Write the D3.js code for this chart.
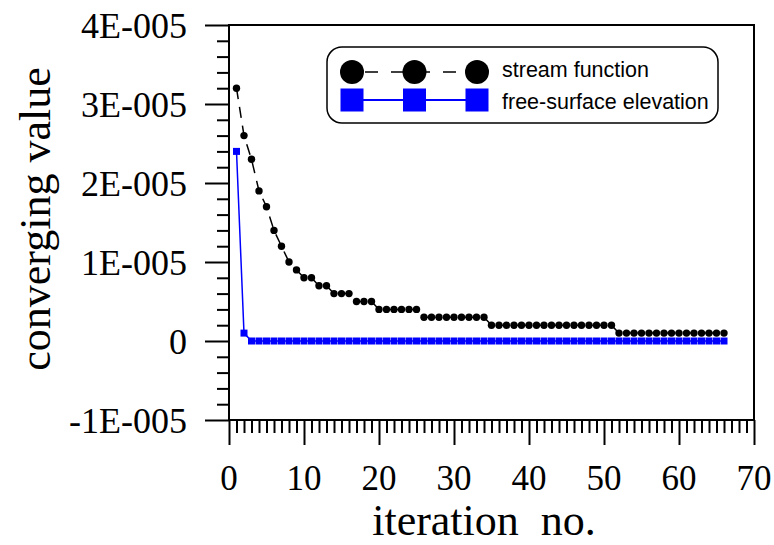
<!DOCTYPE html>
<html>
<head>
<meta charset="utf-8">
<script src="https://cdn.jsdelivr.net/npm/d3@7"></script>
<style>
  html, body { margin: 0; padding: 0; background: #fff; }
  svg { display: block; }
</style>
</head>
<body>
<svg id="chart" width="774" height="545"></svg>
<script>
// ---- data ----
const iterations = [1,2,3,4,5,6,7,8,9,10,11,12,13,14,15,16,17,18,19,20,21,22,23,24,25,26,27,28,29,30,31,32,33,34,35,36,37,38,39,40,41,42,43,44,45,46,47,48,49,50,51,52,53,54,55,56,57,58,59,60,61,62,63,64,65,66];
const streamFunction = [3.2e-5,2.6e-5,2.3e-5,1.9e-5,1.7e-5,1.4e-5,1.2e-5,1.0e-5,0.9e-5,0.8e-5,0.8e-5,0.7e-5,0.7e-5,0.6e-5,0.6e-5,0.6e-5,0.5e-5,0.5e-5,0.5e-5,
  0.4e-5,0.4e-5,0.4e-5,0.4e-5,0.4e-5,0.4e-5,
  0.3e-5,0.3e-5,0.3e-5,0.3e-5,0.3e-5,0.3e-5,0.3e-5,0.3e-5,0.3e-5,
  0.2e-5,0.2e-5,0.2e-5,0.2e-5,0.2e-5,0.2e-5,0.2e-5,0.2e-5,0.2e-5,0.2e-5,0.2e-5,0.2e-5,0.2e-5,0.2e-5,0.2e-5,0.2e-5,0.2e-5,
  0.1e-5,0.1e-5,0.1e-5,0.1e-5,0.1e-5,0.1e-5,0.1e-5,0.1e-5,0.1e-5,0.1e-5,0.1e-5,0.1e-5,0.1e-5,0.1e-5,0.1e-5];
const freeSurface = [2.4e-5,0.1e-5,0,0,0,0,0,0,0,0,0,0,0,0,0,0,0,0,0,0,0,0,0,0,0,0,0,0,0,0,0,0,0,0,0,0,0,0,0,0,0,0,0,0,0,0,0,0,0,0,0,0,0,0,0,0,0,0,0,0,0,0,0,0,0,0];
const xTicks = [0,10,20,30,40,50,60,70];
const yTicks = [-1e-5,0,1e-5,2e-5,3e-5,4e-5];
const yTickLabels = ["-1E-005","0","1E-005","2E-005","3E-005","4E-005"];
const seriesNames = ["stream function","free-surface elevation"];
const xTitle = "iteration  no.";
const yTitle = "converging value";

// ---- layout ----
const L = 229, R = 754, T = 25, B = 420;
const svg = d3.select("#chart");
const x = d3.scaleLinear().domain([0,70]).range([L,R]);
const y = d3.scaleLinear().domain([-1e-5,4e-5]).range([B,T]);
const serif = "'Liberation Serif','Times New Roman',Times,serif";
const sans = "'Liberation Sans',Arial,Helvetica,sans-serif";

// frame
svg.append("rect").attr("x",L).attr("y",T).attr("width",R-L).attr("height",B-T)
  .attr("fill","none").attr("stroke","#000").attr("stroke-width",2);

// x axis minor + major
const xMinor = d3.range(0,71,1).filter(v => v % 10 !== 0);
const gxm = svg.append("g").attr("transform",`translate(0,${B})`)
  .call(d3.axisBottom(x).tickValues(xMinor).tickSize(13).tickFormat(""));
const gx = svg.append("g").attr("transform",`translate(0,${B})`)
  .call(d3.axisBottom(x).tickValues(xTicks).tickSize(25).tickFormat(""));
[gxm,gx].forEach(g => { g.select(".domain").remove(); g.selectAll("line").attr("stroke","#000").attr("stroke-width",2); });
svg.append("g").selectAll("text").data(xTicks).join("text")
  .attr("x",d=>x(d)).attr("y",490).attr("text-anchor","middle")
  .attr("font-family",serif).attr("font-size",35).attr("fill","#000").text(d=>d);

// y axis minor + major
const yMinor = d3.range(-5,21,1).filter(v => v % 5 !== 0).map(v => v*2e-6);
const gym = svg.append("g").attr("transform",`translate(${L},0)`)
  .call(d3.axisLeft(y).tickValues(yMinor).tickSize(12).tickFormat(""));
const gy = svg.append("g").attr("transform",`translate(${L},0)`)
  .call(d3.axisLeft(y).tickValues(yTicks).tickSize(24).tickFormat(""));
[gym,gy].forEach(g => { g.select(".domain").remove(); g.selectAll("line").attr("stroke","#000").attr("stroke-width",2); });
svg.append("g").selectAll("text").data(yTicks).join("text")
  .attr("x",187).attr("y",d=>y(d)).attr("dy","0.35em").attr("text-anchor","end")
  .attr("font-family",serif).attr("font-size",36).attr("fill","#000").text((d,i)=>yTickLabels[i]);

// titles
svg.append("text").attr("x",484).attr("y",535).attr("text-anchor","middle")
  .attr("font-family",serif).attr("font-size",44).style("white-space","pre").attr("fill","#000").text(xTitle);
svg.append("text").attr("transform","translate(50,219) rotate(-90)").attr("text-anchor","middle")
  .attr("font-family",serif).attr("font-size",44).attr("fill","#000").text(yTitle);

// series
const sfData = iterations.map((it,i)=>({x:it,y:streamFunction[i]}));
const fsData = iterations.map((it,i)=>({x:it,y:freeSurface[i]}));
const line = d3.line().x(d=>x(d.x)).y(d=>y(d.y));

svg.append("path").datum(sfData).attr("d",line).attr("fill","none")
  .attr("stroke","#000").attr("stroke-width",1.5).attr("stroke-dasharray","11,8");
svg.append("g").selectAll("circle").data(sfData).join("circle")
  .attr("cx",d=>x(d.x)).attr("cy",d=>y(d.y)).attr("r",3.7).attr("fill","#000");

svg.append("path").datum(fsData).attr("d",line).attr("fill","none")
  .attr("stroke","#0000ff").attr("stroke-width",1.5);
const sq = 7;
svg.append("g").selectAll("rect").data(fsData).join("rect")
  .attr("x",d=>x(d.x)-sq/2).attr("y",d=>y(d.y)-sq/2).attr("width",sq).attr("height",sq).attr("fill","#0000ff");

// legend
const lg = svg.append("g");
lg.append("rect").attr("x",327).attr("y",47).attr("width",391).attr("height",76).attr("rx",15).attr("ry",15)
  .attr("fill","#fff").attr("stroke","#000").attr("stroke-width",1.5);
const symX = [352,414.5,477];
lg.append("line").attr("x1",symX[0]).attr("x2",symX[2]).attr("y1",72).attr("y2",72)
  .attr("stroke","#000").attr("stroke-width",1.5).attr("stroke-dasharray","13,13").attr("stroke-dashoffset",-13);
lg.selectAll("circle").data(symX).join("circle").attr("cx",d=>d).attr("cy",72).attr("r",12).attr("fill","#000");
lg.append("line").attr("x1",symX[0]).attr("x2",symX[2]).attr("y1",100).attr("y2",100)
  .attr("stroke","#0000ff").attr("stroke-width",2);
lg.selectAll("rect.s").data(symX).join("rect").attr("class","s")
  .attr("x",d=>d-11.5).attr("y",100-11.5).attr("width",23).attr("height",23).attr("fill","#0000ff");
lg.selectAll("text").data(seriesNames).join("text")
  .attr("x",502).attr("y",(d,i)=>i===0?77:109)
  .attr("font-family",sans).attr("font-size",21.5).attr("fill","#000").text(d=>d);
</script>
</body>
</html>
